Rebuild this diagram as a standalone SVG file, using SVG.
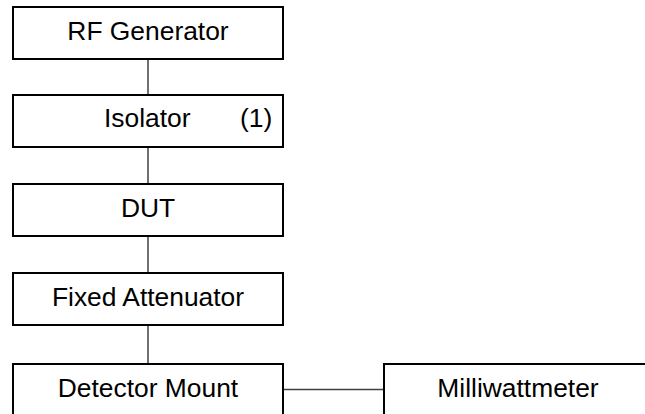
<svg xmlns="http://www.w3.org/2000/svg" width="645" height="414" viewBox="0 0 645 414">
<style>
.box{fill:#fff;stroke:#000;stroke-width:2}
.t{font-family:"Liberation Sans",Arial,sans-serif;font-size:26.4px;fill:#000;text-anchor:middle}
.tl{font-family:"Liberation Sans",Arial,sans-serif;font-size:26.4px;fill:#000}
.c{stroke:#404040;stroke-width:1.5;fill:none}
</style>
<rect width="645" height="414" fill="#fff"/>
<g id="connectors">
<line class="c" x1="148" y1="60" x2="148" y2="94"/>
<line class="c" x1="148" y1="147" x2="148" y2="183"/>
<line class="c" x1="148" y1="237" x2="148" y2="272"/>
<line class="c" x1="148" y1="325" x2="148" y2="363"/>
<line class="c" x1="284" y1="389.5" x2="383" y2="389.5"/>
</g>
<g id="rf-generator">
<rect class="box" x="13" y="7" width="270" height="52"/>
<text class="t" x="148" y="40">RF Generator</text>
</g>
<g id="isolator">
<rect class="box" x="13" y="95" width="270" height="52"/>
<text class="tl" x="104" y="127">Isolator</text>
<text class="tl" x="240" y="127">(1)</text>
</g>
<g id="dut">
<rect class="box" x="13" y="184" width="270" height="52"/>
<text class="t" x="148" y="216.5">DUT</text>
</g>
<g id="fixed-attenuator">
<rect class="box" x="13" y="273" width="270" height="52"/>
<text class="t" x="148" y="305.5">Fixed Attenuator</text>
</g>
<g id="detector-mount">
<rect class="box" x="13" y="364" width="270" height="52"/>
<text class="t" x="148" y="396.5">Detector Mount</text>
</g>
<g id="milliwattmeter">
<rect class="box" x="384" y="364" width="270" height="52"/>
<text class="t" x="518" y="396.5">Milliwattmeter</text>
</g>
</svg>
